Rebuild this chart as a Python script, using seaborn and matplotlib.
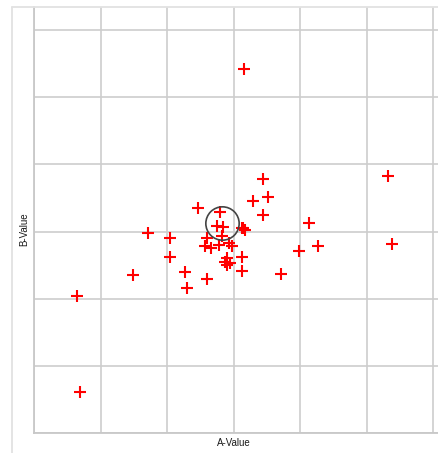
import matplotlib
matplotlib.use("Agg")
import matplotlib.pyplot as plt
from matplotlib.lines import Line2D
import seaborn as sns
import pandas as pd

# Sample measurements (A, B)
a_values = [0.165, 0.44, 2.32, 0.52, 0.29, -0.53, -0.21, 0.44, 1.13, -0.25,
            -0.165, 0.14, 0.13, 0.18, -1.28, -0.955, -0.405, -0.18, 2.38, 1.27,
            0.99, -0.43, -0.34, -0.22, -0.07, -0.02, -0.955, 0.135, -0.105, -0.13,
            -0.055, -0.095, 0.135, -0.73, 0.72, -1.505, -0.395, -0.695, -2.35, -2.31]
b_values = [2.42, 0.78, 0.82, 0.51, 0.45, 0.35, 0.29, 0.25, 0.13, 0.09,
            0.075, 0.05, 0.06, 0.03, -0.02, -0.09, -0.09, -0.07, -0.18, -0.22,
            -0.29, -0.21, -0.25, -0.20, -0.17, -0.21, -0.38, -0.38, -0.40, -0.45,
            -0.46, -0.50, -0.58, -0.60, -0.625, -0.645, -0.71, -0.84, -0.96, -2.38]

# Reference centre marked with a ring
center_a = [-0.176]
center_b = [0.134]

grid_ticks = [-3, -2, -1, 0, 1, 2, 3]

df = pd.DataFrame({"A-Value": a_values, "B-Value": b_values})

sns.set_theme(style="whitegrid")
plt.rcParams["font.family"] = ["Liberation Sans", "DejaVu Sans"]

fig = plt.figure(figsize=(4.38, 4.53), dpi=100)
W, H = 438, 453
ax = fig.add_axes([34 / W, (H - 433.3) / H, (W - 34) / W, (433.3 - 7) / H])

sns.scatterplot(data=df, x="A-Value", y="B-Value", ax=ax, marker="+",
                color="red", s=80, linewidth=1.5, zorder=3)
ax.plot(center_a, center_b, marker="o", markersize=24, markerfacecolor="none",
        markeredgecolor="#444444", markeredgewidth=1.2, linestyle="none", zorder=4)

ax.set_xlim(-3.0, 3.075)
ax.set_ylim(-3.0, 3.34)
ax.set_xticks(grid_ticks)
ax.set_yticks(grid_ticks)
ax.tick_params(length=0, labelbottom=False, labelleft=False)
ax.grid(True, color="#cdcdcd", linewidth=1.2)
ax.set_facecolor("white")

for side in ("top", "right"):
    ax.spines[side].set_visible(False)
for side in ("left", "bottom"):
    ax.spines[side].set_visible(True)
    ax.spines[side].set_color("#c8c8c8")
    ax.spines[side].set_linewidth(1.3)

ax.set_xlabel("A-Value", fontsize=7, color="#1a1a1a")
ax.set_ylabel("B-Value", fontsize=7, color="#1a1a1a")
ax.xaxis.set_label_coords((233.5 - 34) / (W - 34), -10 / 426.3)
ax.xaxis.label.set_va("center")
ax.yaxis.set_label_coords(-(34 - 24) / (W - 34), (433.3 - 229) / 426.3)
ax.yaxis.label.set_va("center")

# Outer panel frame
fig.add_artist(Line2D([12.3 / W, 12.3 / W], [0, (H - 7) / H], color="#e2e2e2",
                      linewidth=1.3, transform=fig.transFigure))
fig.add_artist(Line2D([12.3 / W, 1.0], [(H - 7) / H, (H - 7) / H], color="#e2e2e2",
                      linewidth=1.3, transform=fig.transFigure))

fig.savefig("out.png", dpi=100)
